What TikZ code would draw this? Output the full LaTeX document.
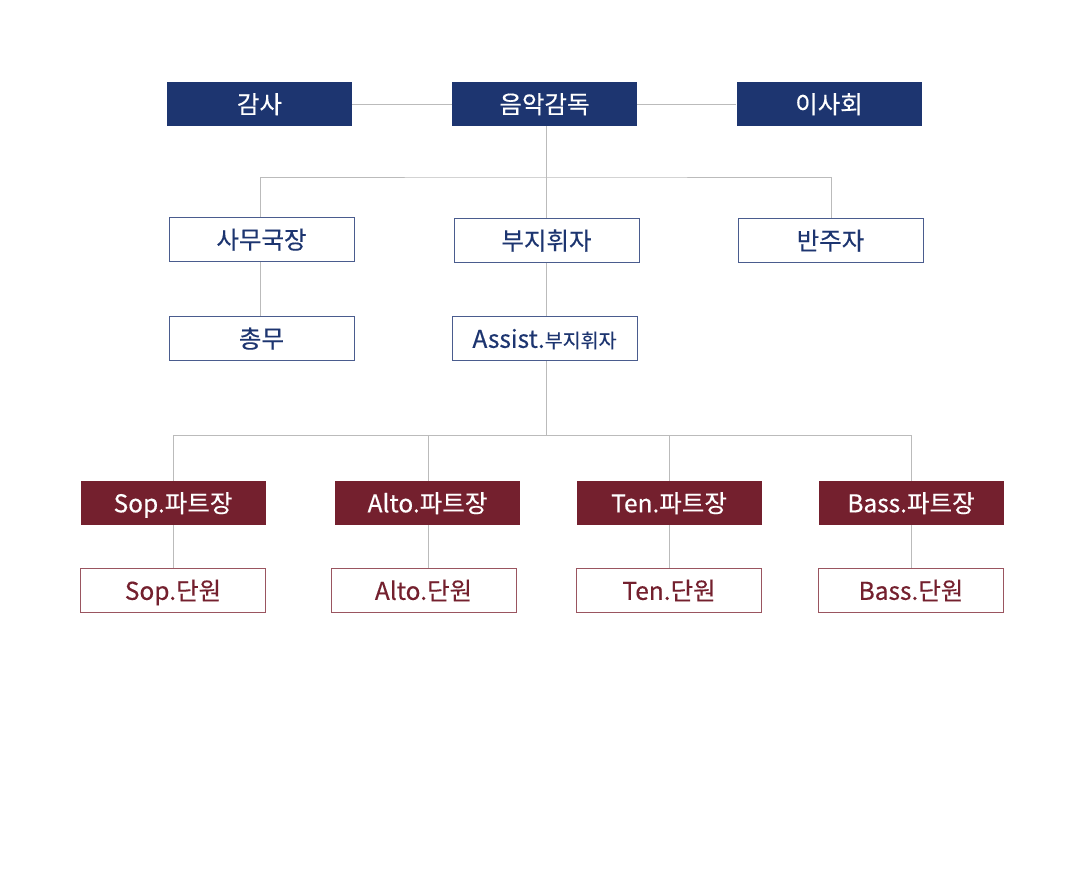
\documentclass[tikz,border=0pt]{standalone}
\usepackage{fontspec}
\setmainfont[FakeBold=0.35]{Noto Sans CJK KR}
\definecolor{navy}{HTML}{1D3570}
\definecolor{maroon}{HTML}{74202E}
\definecolor{maroonb}{HTML}{9A5560}
\definecolor{navyb}{HTML}{4A5C8E}
\definecolor{linec}{HTML}{BBBBBB}
\tikzset{
  base/.style={minimum width=185pt, minimum height=44pt, inner sep=0pt, text height=21pt, text depth=2.4pt, font=\fontsize{24.5}{28}\selectfont},
  navyfill/.style={base, fill=navy, text=white},
  navybox/.style={base, draw=navyb, line width=0.9pt, fill=white, text=navy},
  maroonfill/.style={base, fill=maroon, text=white},
  maroonbox/.style={base, draw=maroonb, line width=0.9pt, fill=white, text=maroon},
  conn/.style={draw=linec, line width=1pt}
}
\begin{document}
\begin{tikzpicture}[x=1pt,y=-1pt]
\useasboundingbox (0,0) rectangle (1083,871);
% top row
\node[navyfill] (gamsa) at (259.5,104) {감사};
\node[navyfill] (dir) at (544.5,104) {음악감독};
\node[navyfill] (board) at (829,104) {이사회};
% second row
\node[navybox] (office) at (261.5,239.5) {사무국장};
\node[navybox] (vice) at (546.5,240.5) {부지휘자};
\node[navybox] (piano) at (830.5,240.5) {반주자};
% third row
\node[navybox] (gen) at (261.5,338.5) {총무};
\node[navybox] (assist) at (544.5,338.5) {Assist.{\fontsize{19.5}{22}\selectfont 부지휘자}};
% part leaders
\node[maroonfill] (sopl) at (173,503) {Sop.파트장};
\node[maroonfill] (altol) at (427.5,503) {Alto.파트장};
\node[maroonfill] (tenl) at (669,503) {Ten.파트장};
\node[maroonfill] (bassl) at (911,503) {Bass.파트장};
% members
\node[maroonbox] (sopm) at (173,590.5) {Sop.단원};
\node[maroonbox] (altom) at (423.5,590.5) {Alto.단원};
\node[maroonbox] (tenm) at (669,590.5) {Ten.단원};
\node[maroonbox] (bassm) at (911,590.5) {Bass.단원};
% coordinates
\coordinate (j1) at (546,177);
\coordinate (j2) at (546,435);
% connectors
\draw[conn] (gamsa.east) -- (dir.west);
\draw[conn] (dir.east) -- (board.west);
\draw[conn] (dir.south -| j1) -- (j1);
\draw[conn] (office.north -| 260,0) |- (j1) -| (piano.north -| 831,0);
\draw[conn] (j1) -- (vice.north -| j1);
\draw[conn] (office.south -| 260,0) -- (gen.north -| 260,0);
\draw[conn] (vice.south -| j1) -- (assist.north -| j1);
\draw[conn] (assist.south -| j1) -- (j2);
\draw[conn] (sopl.north) |- (j2) -| (bassl.north);
\draw[conn] (altol.north -| 428,0) -- (428,435);
\draw[conn] (tenl.north) -- (tenl.north |- j2);
\draw[conn] (sopl.south) -- (sopm.north);
\draw[conn] (altol.south -| 428,0) -- (altom.north -| 428,0);
\draw[conn] (tenl.south) -- (tenm.north);
\draw[conn] (bassl.south) -- (bassm.north);
\end{tikzpicture}
\end{document}
